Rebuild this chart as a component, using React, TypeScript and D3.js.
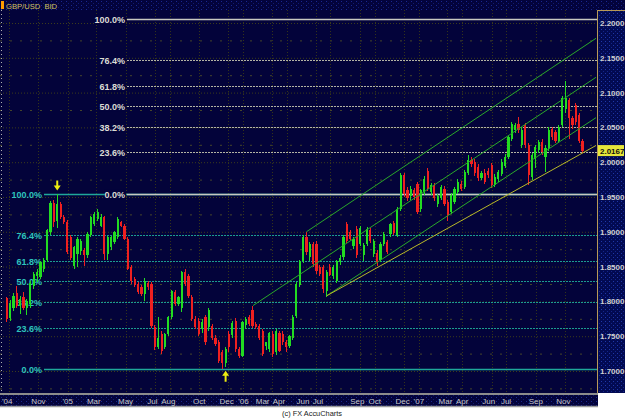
import React from 'react';
import * as d3 from 'd3';

const W = 625;
const H = 419;
const PLOT_R = 597;
const PLOT_T = 10;
const PLOT_B = 393;

const title = 'GBP/USD_BID';
const footer = '(c) FX AccuCharts';
const firstWeek = new Date(2004, 7, 27);

const opens = [
  1.805,1.776,1.790,1.812,1.793,1.806,1.790,1.796,1.822,1.836,
  1.835,1.846,1.859,1.899,1.942,1.916,1.940,1.921,1.914,1.892,
  1.851,1.868,1.873,1.874,1.866,1.895,1.911,1.918,1.909,1.921,
  1.868,1.878,1.885,1.892,1.914,1.909,1.890,1.849,1.832,1.825,
  1.820,1.811,1.827,1.825,1.763,1.734,1.753,1.734,1.753,1.777,
  1.813,1.796,1.791,1.842,1.837,1.806,1.775,1.772,1.760,1.777,
  1.763,1.765,1.748,1.741,1.727,1.712,1.753,1.752,1.772,1.732,
  1.722,1.766,1.778,1.788,1.768,1.765,1.757,1.736,1.731,1.753,
  1.727,1.755,1.753,1.741,1.736,1.748,1.779,1.823,1.858,1.892,
  1.864,1.882,1.883,1.849,1.849,1.815,1.849,1.836,1.830,1.857,
  1.864,1.911,1.899,1.880,1.904,1.883,1.866,1.883,1.902,1.868,
  1.870,1.859,1.883,1.885,1.897,1.913,1.895,1.933,1.981,1.960,
  1.952,1.960,1.969,1.933,1.957,1.988,1.957,1.967,1.940,1.948,
  1.962,1.943,1.928,1.943,1.957,1.969,1.964,1.984,2.003,2.000,
  1.993,1.977,1.984,1.988,1.996,1.967,1.976,1.983,1.995,2.007,
  2.034,2.046,2.055,2.024,2.053,2.024,1.979,2.005,2.017,2.029,
  2.008,2.020,2.048,2.043,2.031,2.053,2.077,2.089,2.063,2.082,
  2.068,2.031,
];
const highs = [
  1.807,1.802,1.812,1.822,1.808,1.814,1.804,1.830,1.842,1.846,
  1.858,1.862,1.904,1.944,1.946,1.955,1.943,1.924,1.917,1.895,
  1.880,1.893,1.889,1.877,1.899,1.923,1.928,1.933,1.926,1.923,
  1.894,1.894,1.901,1.921,1.916,1.911,1.892,1.852,1.835,1.828,
  1.823,1.833,1.830,1.828,1.766,1.777,1.757,1.755,1.779,1.817,
  1.816,1.808,1.844,1.847,1.840,1.809,1.779,1.776,1.775,1.781,
  1.790,1.768,1.752,1.744,1.730,1.734,1.757,1.772,1.776,1.735,
  1.772,1.778,1.781,1.793,1.770,1.768,1.760,1.742,1.756,1.757,
  1.760,1.758,1.757,1.745,1.752,1.780,1.828,1.860,1.895,1.899,
  1.885,1.886,1.887,1.852,1.852,1.845,1.854,1.852,1.860,1.866,
  1.895,1.914,1.903,1.893,1.909,1.908,1.884,1.907,1.906,1.889,
  1.874,1.885,1.899,1.888,1.913,1.915,1.935,1.985,1.984,1.964,
  1.966,1.963,1.972,1.962,1.980,1.992,1.970,1.970,1.955,1.967,
  1.966,1.946,1.956,1.965,1.976,1.973,1.989,2.011,2.007,2.004,
  1.997,1.988,1.990,1.992,1.999,1.983,1.989,2.004,2.012,2.039,
  2.058,2.056,2.065,2.050,2.057,2.027,2.013,2.025,2.032,2.033,
  2.024,2.050,2.051,2.046,2.054,2.095,2.116,2.092,2.067,2.085,
  2.071,2.034,
];
const lows = [
  1.771,1.772,1.786,1.790,1.782,1.788,1.780,1.790,1.818,1.828,
  1.832,1.842,1.856,1.896,1.907,1.905,1.918,1.911,1.868,1.860,
  1.846,1.850,1.866,1.851,1.862,1.892,1.908,1.915,1.907,1.859,
  1.859,1.874,1.882,1.889,1.907,1.888,1.845,1.825,1.820,1.810,
  1.808,1.801,1.817,1.762,1.730,1.731,1.724,1.731,1.750,1.774,
  1.794,1.793,1.785,1.822,1.805,1.772,1.760,1.750,1.755,1.738,
  1.758,1.745,1.736,1.712,1.703,1.706,1.728,1.748,1.728,1.719,
  1.720,1.760,1.764,1.762,1.760,1.744,1.722,1.730,1.728,1.720,
  1.723,1.727,1.738,1.727,1.733,1.745,1.776,1.820,1.855,1.866,
  1.858,1.850,1.840,1.837,1.812,1.807,1.836,1.832,1.826,1.852,
  1.860,1.884,1.888,1.875,1.862,1.880,1.858,1.880,1.884,1.864,
  1.851,1.856,1.880,1.868,1.893,1.895,1.892,1.930,1.950,1.944,
  1.946,1.946,1.925,1.928,1.953,1.958,1.953,1.944,1.936,1.945,
  1.937,1.916,1.925,1.940,1.954,1.958,1.961,1.981,1.993,1.980,
  1.973,1.974,1.969,1.977,1.963,1.964,1.972,1.980,1.992,2.004,
  2.030,2.042,2.042,2.020,2.020,1.967,1.975,1.992,2.013,2.011,
  1.986,2.016,2.032,2.027,2.028,2.050,2.070,2.034,2.048,2.054,
  2.027,2.013,
];
const closes = [
  1.775,1.798,1.808,1.794,1.804,1.791,1.801,1.827,1.839,1.842,
  1.856,1.859,1.902,1.942,1.914,1.940,1.921,1.914,1.871,1.863,
  1.878,1.890,1.887,1.866,1.897,1.921,1.926,1.928,1.921,1.868,
  1.892,1.892,1.899,1.919,1.909,1.890,1.847,1.830,1.823,1.813,
  1.811,1.830,1.820,1.765,1.734,1.748,1.729,1.753,1.777,1.815,
  1.796,1.806,1.842,1.825,1.808,1.775,1.763,1.753,1.771,1.741,
  1.787,1.748,1.739,1.715,1.712,1.731,1.734,1.769,1.731,1.722,
  1.770,1.774,1.768,1.765,1.763,1.747,1.724,1.742,1.755,1.724,
  1.758,1.729,1.741,1.734,1.750,1.778,1.825,1.858,1.892,1.871,
  1.882,1.854,1.844,1.839,1.818,1.842,1.838,1.849,1.858,1.863,
  1.893,1.887,1.890,1.890,1.866,1.906,1.881,1.904,1.887,1.887,
  1.856,1.883,1.897,1.871,1.911,1.898,1.933,1.981,1.955,1.948,
  1.962,1.950,1.928,1.960,1.976,1.962,1.967,1.948,1.952,1.964,
  1.940,1.924,1.953,1.962,1.972,1.962,1.986,2.003,1.998,1.984,
  1.977,1.984,1.972,1.981,1.967,1.979,1.986,2.000,2.008,2.036,
  2.055,2.053,2.046,2.046,2.024,1.981,2.010,2.022,2.029,2.015,
  2.020,2.046,2.036,2.031,2.051,2.092,2.092,2.063,2.053,2.058,
  2.031,2.0167,
];

const priceTicks = [2.2, 2.15, 2.1, 2.05, 2.0, 1.95, 1.9, 1.85, 1.8, 1.75, 1.7];
const minorPriceLines = [2.175, 2.125, 2.075, 2.025, 1.975, 1.925, 1.875, 1.825, 1.775, 1.725, 1.675];
const lastPrice = 2.0167;

const fibRatios = [1, 0.764, 0.618, 0.5, 0.382, 0.236, 0];
const fibLabels = ['100.0%', '76.4%', '61.8%', '50.0%', '38.2%', '23.6%', '0.0%'];
const upperFib = [1.955, 2.2058];
const lowerFib = [1.7029, 1.955];

const timeTickLabels = ["'04", 'Nov', "'05", 'Mar', 'May', 'Jul', 'Aug', 'Oct', 'Dec', "'06", 'Mar', 'Apr', 'Jun', 'Jul', 'Sep', 'Oct', 'Dec', "'07", 'Mar', 'Apr', 'Jun', 'Jul', 'Sep', 'Nov'];
// grid line dates (first of month)
const timeTickDates = [
  new Date(2004, 8, 1), new Date(2004, 10, 1), new Date(2005, 0, 1), new Date(2005, 2, 1),
  new Date(2005, 4, 1), new Date(2005, 6, 1), new Date(2005, 7, 1), new Date(2005, 9, 1),
  new Date(2005, 11, 1), new Date(2006, 0, 1), new Date(2006, 2, 1), new Date(2006, 3, 1),
  new Date(2006, 5, 1), new Date(2006, 6, 1), new Date(2006, 8, 1), new Date(2006, 9, 1),
  new Date(2006, 11, 1), new Date(2007, 0, 1), new Date(2007, 2, 1), new Date(2007, 3, 1),
  new Date(2007, 5, 1), new Date(2007, 6, 1), new Date(2007, 8, 1), new Date(2007, 10, 1),
];
// dates under which the source chart printed each label
const timeLabelDates = [
  new Date(2004, 7, 28), new Date(2004, 10, 1), new Date(2005, 0, 1), new Date(2005, 1, 24),
  new Date(2005, 4, 1), new Date(2005, 5, 26), new Date(2005, 6, 29), new Date(2005, 9, 1),
  new Date(2005, 10, 27), new Date(2006, 0, 1), new Date(2006, 1, 10), new Date(2006, 2, 16),
  new Date(2006, 4, 5), new Date(2006, 5, 5), new Date(2006, 7, 26), new Date(2006, 9, 1),
  new Date(2006, 10, 28), new Date(2007, 0, 1), new Date(2007, 1, 25), new Date(2007, 3, 1),
  new Date(2007, 4, 26), new Date(2007, 6, 1), new Date(2007, 8, 1), new Date(2007, 9, 28),
];

// trend lines: [startDate, startPrice, endDate, endPrice]
const channelLines = [
  [new Date(2006, 4, 12), 1.900, new Date(2008, 0, 4), 2.178],
  [new Date(2006, 0, 21), 1.794, new Date(2008, 0, 4), 2.122],
  [new Date(2006, 5, 23), 1.808, new Date(2008, 0, 4), 2.064],
];
const supportLine = [new Date(2006, 5, 23), 1.808, new Date(2008, 0, 4), 2.024];

const topMarkerIndex = 15;
const bottomMarkerIndex = 65;

const FONT = "'Liberation Sans', Arial, sans-serif";

export default function App() {
  const x = d3.scaleTime().domain([new Date(2004, 7, 13), new Date(2008, 0, 4)]).range([0, 596]);
  const y = d3.scaleLinear().domain([1.7, 2.2]).range([371, 23]);
  const dates = opens.map((_, i) => d3.timeWeek.offset(firstWeek, i));
  const bw = 2.2;

  const fibLine = (range: number[], ratio: number) => range[0] + ratio * (range[1] - range[0]);

  const topX = x(dates[topMarkerIndex]);
  const topY = y(highs[topMarkerIndex]) - 2;
  const botX = x(dates[bottomMarkerIndex]);
  const botY = y(lows[bottomMarkerIndex]) + 4;

  return (
    <svg width={W} height={H} style={{ position: 'absolute', left: 0, top: 0, background: '#ffffff' }} fontFamily={FONT}>
      <defs>
        <pattern id="dots" width="5" height="4" patternUnits="userSpaceOnUse">
          <rect width="5" height="4" fill="#03033c" />
          <rect x="1" y="1" width="1" height="1" fill="#1a2890" />
          <rect x="3" y="3" width="1" height="1" fill="#111c70" />
        </pattern>
        <pattern id="dots2" width="4" height="4" patternUnits="userSpaceOnUse">
          <rect width="4" height="4" fill="#020a52" />
          <rect x="1" y="1" width="1" height="1" fill="#2038a8" />
          <rect x="3" y="3" width="1" height="1" fill="#14258a" />
        </pattern>
        <clipPath id="plotClip">
          <rect x={0} y={PLOT_T} width={PLOT_R} height={PLOT_B - PLOT_T} />
        </clipPath>
      </defs>

      {/* top band */}
      <rect x={0} y={0} width={W} height={PLOT_T} fill="url(#dots)" />
      <rect x={1} y={1} width={3} height={8} fill="#ff9c00" />
      <text x={6} y={8.5} fontSize={7.6} fill="#d4c060">{title}</text>

      {/* plot bg */}
      <rect x={0} y={PLOT_T} width={PLOT_R} height={PLOT_B - PLOT_T} fill="#03033a" />

      <g clipPath="url(#plotClip)">
        {/* horizontal grid */}
        {priceTicks.map((p) => (
          <line key={'g' + p} x1={0} x2={PLOT_R} y1={y(p) + 0.5} y2={y(p) + 0.5} stroke="#3c3c1c" strokeDasharray="1,2" />
        ))}
        {minorPriceLines.map((p) => (
          <line key={'m' + p} x1={0} x2={PLOT_R} y1={y(p) + 0.5} y2={y(p) + 0.5} stroke="#45452a" strokeDasharray="2,8" />
        ))}
        {/* vertical grid */}
        {timeTickDates.map((d, i) => (
          <line key={'v' + i} x1={Math.round(x(d)) + 0.5} x2={Math.round(x(d)) + 0.5} y1={PLOT_T} y2={PLOT_B} stroke="#34341a" strokeDasharray="1,2" />
        ))}

        {/* lower fib (cyan) */}
        {fibRatios.map((r, i) => {
          const yy = Math.round(y(fibLine(lowerFib, r))) + 0.5;
          const solid = r === 0 || r === 1;
          return (
            <g key={'lf' + i}>
              <line x1={44} x2={PLOT_R} y1={yy} y2={yy} stroke={solid ? '#1fa79a' : '#1c9c90'} strokeWidth={solid ? 1.4 : 1} strokeDasharray={solid ? undefined : '2,1'} />
              <text x={42} y={yy + 3} textAnchor="end" fontSize={9} fontWeight="bold" fill="#2ec4bc">{fibLabels[i]}</text>
            </g>
          );
        })}

        {/* upper fib (gray) */}
        {fibRatios.map((r, i) => {
          const yy = Math.round(y(fibLine(upperFib, r))) + 0.5;
          const solid = r === 0 || r === 1;
          const lw = fibLabels[i].length * 5.3;
          return (
            <g key={'uf' + i}>
              <line x1={127} x2={PLOT_R} y1={yy} y2={yy} stroke={solid ? '#c8c8c0' : '#b4b4a4'} strokeWidth={solid ? 1.3 : 1} strokeDasharray={solid ? undefined : '2,1'} />
              <rect x={126 - lw} y={yy - 5} width={lw} height={10} fill="#03033a" />
              <text x={125} y={yy + 3} textAnchor="end" fontSize={9} fontWeight="bold" fill="#dcdcd4">{fibLabels[i]}</text>
            </g>
          );
        })}

        {/* candles */}
        <g shapeRendering="crispEdges">
          {opens.map((o, i) => {
            const c = closes[i];
            const up = c >= o;
            const col = up ? '#22dc22' : '#ee2020';
            const cx = x(dates[i]);
            const yTop = y(Math.max(o, c));
            const yBot = y(Math.min(o, c));
            return (
              <g key={'c' + i}>
                <line x1={cx} x2={cx} y1={y(highs[i])} y2={y(lows[i])} stroke={col} strokeWidth={1} />
                <rect x={cx - bw / 2} y={yTop} width={bw} height={Math.max(1, yBot - yTop)} fill={col} />
              </g>
            );
          })}
        </g>

        {/* channel lines */}
        {channelLines.map((l, i) => (
          <line key={'ch' + i} x1={x(l[0] as Date)} y1={y(l[1] as number)} x2={x(l[2] as Date)} y2={y(l[3] as number)} stroke="#2aa82a" strokeWidth={1} />
        ))}
        <line x1={x(supportLine[0] as Date)} y1={y(supportLine[1] as number)} x2={x(supportLine[2] as Date)} y2={y(supportLine[3] as number)} stroke="#b8b828" strokeWidth={1} />

        {/* arrows */}
        <path d={`M${topX - 1},${topY - 11} h2 v5 h2.5 l-3.5,5 l-3.5,-5 h2.5 z`} fill="#ecec10" />
        <path d={`M${botX},${botY} l3.5,5 h-2.5 v6 h-2 v-6 h-2.5 z`} fill="#ecec10" />
      </g>

      {/* left axis dotted */}
      <line x1={1.5} x2={1.5} y1={PLOT_T} y2={PLOT_B} stroke="#b0b0b0" strokeDasharray="1,3" />

      {/* right axis panel */}
      <rect x={PLOT_R} y={PLOT_T} width={W - PLOT_R} height={PLOT_B - PLOT_T} fill="url(#dots2)" />
      <line x1={PLOT_R + 0.5} x2={PLOT_R + 0.5} y1={PLOT_T} y2={PLOT_B} stroke="#b89a58" />
      <line x1={PLOT_R} x2={W} y1={PLOT_T + 0.5} y2={PLOT_T + 0.5} stroke="#b89a58" />
      {priceTicks.map((p) => (
        <text key={'pt' + p} x={600} y={y(p) + 3} fontSize={8} fontWeight="bold" fill="#d0d0d0">{p.toFixed(4)}</text>
      ))}
      <rect x={598} y={y(lastPrice) - 5.5} width={26} height={11} fill="#e6e63a" />
      <text x={600} y={y(lastPrice) + 3} fontSize={8} fontWeight="bold" fill="#101010">{lastPrice.toFixed(4)}</text>

      {/* bottom axis band */}
      <rect x={0} y={PLOT_B} width={PLOT_R + 1} height={14} fill="url(#dots)" />
      <line x1={0} x2={PLOT_R + 1} y1={PLOT_B + 1} y2={PLOT_B + 1} stroke="#8c8c8c" strokeWidth={2} />
      <line x1={0} x2={PLOT_R + 1} y1={PLOT_B + 13.5} y2={PLOT_B + 13.5} stroke="#9a9a9a" strokeWidth={1.5} />
      {timeTickLabels.map((t, i) => (
        <text key={'tl' + i} x={x(timeLabelDates[i])} y={PLOT_B + 11} textAnchor="middle" fontSize={8} fill="#c8c8c8">{t}</text>
      ))}

      {/* footer */}
      <text x={312} y={416} textAnchor="middle" fontSize={7.4} fill="#202020">{footer}</text>
    </svg>
  );
}
